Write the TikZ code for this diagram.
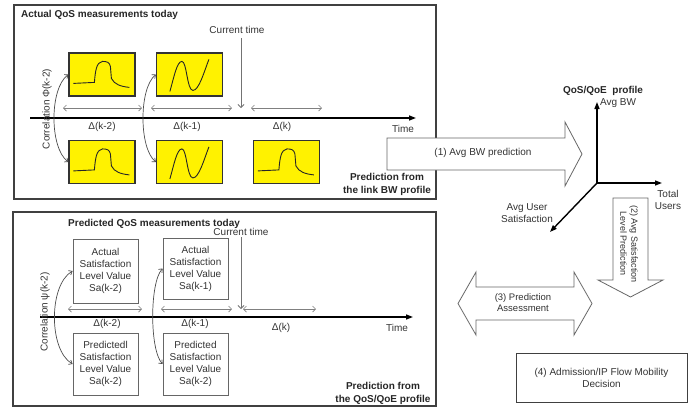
\documentclass[tikz,border=0pt]{standalone}
\usepackage{fontspec}
\setmainfont{Liberation Sans}
\usetikzlibrary{arrows.meta}
\begin{document}
\begin{tikzpicture}[x=1pt,y=-1pt, font=\fontsize{10}{12}\selectfont,
  txt/.style={inner sep=0pt, text=black!80, align=center},
  bold/.style={inner sep=0pt, text=black!85, align=center, font=\fontsize{10}{13}\selectfont\bfseries},
  frame/.style={draw=black!75, line width=1.2pt, inner sep=0pt},
  ybox/.style={draw=black!80, fill=yellow, line width=1.2pt, minimum width=66pt, minimum height=43pt, inner sep=0pt},
  sbox/.style={draw=black!60, line width=0.8pt, minimum width=65pt, minimum height=64pt, inner sep=0pt, align=center, text=black!80},
  timeax/.style={line width=1.4pt, -{Triangle[length=7pt,width=5pt]}},
  span/.style={draw=black!50, line width=0.7pt, {Straight Barb[length=3pt,width=6pt]}-{Straight Barb[length=3pt,width=6pt]}},
  corr/.style={draw=black!70, line width=0.7pt, {Straight Barb[length=3pt,width=5pt]}-{Straight Barb[length=3pt,width=5pt]}},
  nowarrow/.style={draw=black!55, line width=0.8pt, -{Straight Barb[length=3pt,width=6pt]}},
  blockarrow/.style={draw=black!60, fill=white, line width=0.8pt},
  wave/.style={draw=black!85, line width=0.9pt},
]
\useasboundingbox (0,0) rectangle (689,408);

% ---------- top frame ----------
\node[frame, minimum width=422pt, minimum height=194pt] (topframe) at (225,102) {};
\node[bold, anchor=west] (t1) at (21,15) {Actual QoS measurements today};
\node[txt] (ct1) at (237,30) {Current time};
\coordinate (ct1s) at (241,38);
\coordinate (ct1e) at (241,108);
\draw[nowarrow] (ct1s) -- (ct1e);

\node[ybox] (y11) at (102,74.5) {};
\node[ybox] (y12) at (189.5,74.5) {};
\node[ybox] (y21) at (102,162) {};
\node[ybox] (y22) at (189.5,162) {};
\node[ybox] (y23) at (286.5,162) {};

\draw[wave, shift={(y11.north west)}] (5,31) -- (26,30) .. controls (27,18) and (28,10) .. (34,9) .. controls (39,9) and (41,10) .. (42,14) -- (43,26) .. controls (46,32) and (52,34) .. (61,35);
\draw[wave, shift={(y21.north west)}] (5,31) -- (26,30) .. controls (27,18) and (28,10) .. (34,9) .. controls (39,9) and (41,10) .. (42,14) -- (43,26) .. controls (46,32) and (52,34) .. (61,35);
\draw[wave, shift={(y23.north west)}] (5,31) -- (26,30) .. controls (27,18) and (28,10) .. (34,9) .. controls (39,9) and (41,10) .. (42,14) -- (43,26) .. controls (46,32) and (52,34) .. (61,35);
\draw[wave, shift={(y12.north west)}] (14,39) .. controls (18,25) and (21,9) .. (26,9) .. controls (31,9) and (31,38) .. (37,38) .. controls (43,38) and (48,20) .. (53,7);
\draw[wave, shift={(y22.north west)}] (14,39) .. controls (18,25) and (21,9) .. (26,9) .. controls (31,9) and (31,38) .. (37,38) .. controls (43,38) and (48,20) .. (53,7);

\coordinate (ax1s) at (30,118);
\coordinate (ax1e) at (416,118);
\draw[timeax] (ax1s) -- (ax1e);
\node[txt] (time1) at (403,129) {Time};

\coordinate (s1a) at (63,108);  \coordinate (s1b) at (142,108);
\coordinate (s2a) at (151,108); \coordinate (s2b) at (232,108);
\coordinate (s3a) at (251,108); \coordinate (s3b) at (322,108);
\draw[span] (s1a) -- (s1b);
\draw[span] (s2a) -- (s2b);
\draw[span] (s3a) -- (s3b);
\node[txt] (d1) at (102,127) {Δ(k-2)};
\node[txt] (d2) at (187,127) {Δ(k-1)};
\node[txt] (d3) at (282,127) {Δ(k)};

\draw[corr] (y11.west) .. controls +(-19,14) and +(-19,-14) .. (y21.west);
\draw[corr] (y12.west) .. controls +(-17,14) and +(-17,-14) .. (y22.west);
\node[txt, rotate=90] (c1) at (47,109) {Correlation Φ(k-2)};

\node[bold] (p1) at (387,184.5) {Prediction from\\the link BW profile};

% ---------- bottom frame ----------
\node[frame, minimum width=423pt, minimum height=194pt] (botframe) at (224.5,309) {};
\node[bold, anchor=west] (t2) at (68,224) {Predicted QoS measurements today};
\node[txt] (ct2) at (241,232) {Current time};
\coordinate (ct2s) at (241,237);
\coordinate (ct2e) at (241,309);
\draw[nowarrow] (ct2s) -- (ct2e);

\node[sbox] (s11) at (105.5,271) {Actual\\Satisfaction\\Level Value\\Sa(k-2)};
\node[sbox, minimum height=61pt] (s12) at (195.5,268.5) {Actual\\Satisfaction\\Level Value\\Sa(k-1)};
\node[sbox, minimum height=62pt] (s21) at (105.5,364) {Predictedl\\Satisfaction\\Level Value\\Sa(k-2)};
\node[sbox, minimum height=62pt] (s22) at (195.5,364) {Predicted\\Satisfaction\\Level Value\\Sa(k-2)};

\coordinate (ax2s) at (40,317);
\coordinate (ax2e) at (413,317);
\draw[timeax] (ax2s) -- (ax2e);
\node[txt] (time2) at (397,328) {Time};

\coordinate (u1a) at (68,309);  \coordinate (u1b) at (142,309);
\coordinate (u2a) at (161,309); \coordinate (u2b) at (232,309);
\coordinate (u3a) at (243,309); \coordinate (u3b) at (316,309);
\draw[span] (u1a) -- (u1b);
\draw[span] (u2a) -- (u2b);
\draw[span] (u3a) -- (u3b);
\node[txt] (e1) at (107,324) {Δ(k-2)};
\node[txt] (e2) at (195,324) {Δ(k-1)};
\node[txt] (e3) at (281,328) {Δ(k)};

\draw[corr] (s11.west) .. controls +(-24,14) and +(-24,-14) .. (s21.west);
\draw[corr] (s12.west) .. controls +(-13,14) and +(-13,-14) .. (s22.west);
\node[txt, rotate=90] (c2) at (45,312) {Correlation ψ(k-2)};

\node[bold] (p2) at (383,393.5) {Prediction from\\the QoS/QoE profile};

% ---------- block arrow (1) ----------
\draw[blockarrow] (387,138) -- (565,138) -- (565,122) -- (582,154) -- (565,186) -- (565,170) -- (387,170) -- cycle;
\node[txt] (a1) at (483,153) {(1) Avg BW prediction};

% ---------- QoS/QoE profile axes ----------
\coordinate (o) at (597,183);
\coordinate (yax) at (597,102);
\coordinate (xax) at (662,183);
\coordinate (zax) at (550,232);
\draw[timeax] (o) -- (yax);
\draw[timeax] (o) -- (xax);
\draw[timeax] (o) -- (zax);
\node[bold] (qp) at (603,91) {QoS/QoE\ \ profile};
\node[txt] (abw) at (618,103) {Avg BW};
\node[txt] (tu) at (668,199.5) {Total\\Users};
\node[txt] (aus) at (527,213) {Avg User\\Satisfaction};

% ---------- block arrow (2) ----------
\draw[blockarrow] (613,198) -- (648,198) -- (648,280) -- (663,280) -- (630.5,297) -- (598,280) -- (613,280) -- cycle;
\node[txt, rotate=-90, font=\fontsize{9}{11}\selectfont] (a2) at (629,244) {(2) Avg Satisfaction\\Level Prediction};

% ---------- block arrow (3) ----------
\draw[blockarrow] (458,303.5) -- (476,272) -- (476,287) -- (574,287) -- (574,272) -- (592,303.5) -- (574,335) -- (574,320) -- (476,320) -- (476,335) -- cycle;
\node[txt, font=\fontsize{9.5}{11}\selectfont] (a3) at (523,302.5) {(3) Prediction\\Assessment};

% ---------- box (4) ----------
\node[draw=black!75, line width=0.9pt, minimum width=171pt, minimum height=49pt, inner sep=0pt, align=center, text=black!80] (b4) at (601.5,377.5) {(4) Admission/IP Flow Mobility\\Decision};

\end{tikzpicture}
\end{document}
